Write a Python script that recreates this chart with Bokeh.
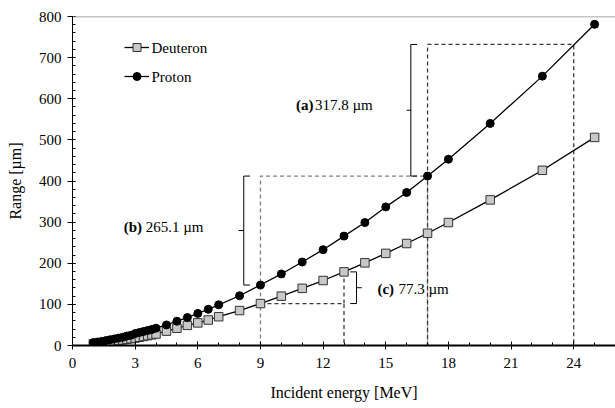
from bokeh.plotting import figure
from bokeh.models import Span, Range1d, SingleIntervalTicker, Legend, LegendItem, Label
from bokeh.embed import file_html
from bokeh.resources import INLINE

# ---------------- data ----------------
energy = [1.0, 1.2, 1.4, 1.6, 1.8, 2.0, 2.2, 2.4, 2.6, 2.8, 3.0, 3.2, 3.4, 3.6, 3.8, 4.0,
          4.5, 5.0, 5.5, 6.0, 6.5, 7.0, 8.0, 9.0, 10.0, 11.0, 12.0, 13.0, 14.0, 15.0,
          16.0, 17.0, 18.0, 20.0, 22.5, 25.0]
proton = [7, 8.5, 10, 12, 14, 16, 18, 20, 23, 25, 29, 31.5, 34, 36.5, 39, 42,
          50, 59, 68, 78, 88, 99, 121, 147, 174, 203, 233, 266, 299, 337,
          372, 412, 453, 540, 655, 781]
deuteron = [4, 5, 6, 7.5, 9, 10.5, 12, 13.5, 15, 16.5, 18, 20, 22, 24, 26, 28,
            35, 42, 49, 55, 62, 70, 85, 102, 120, 139, 158, 179, 201, 224,
            248, 273, 299, 354, 426, 506]

x_ticks = [0, 3, 6, 9, 12, 15, 18, 21, 24]
y_ticks = [0, 100, 200, 300, 400, 500, 600, 700, 800]
series_names = ["Deuteron", "Proton"]

# annotation values: (energy start, energy end, range low, range high, label)
ann_a = (17, 24, 412, 732, "317.8 \u00b5m")
ann_b = (9, 17, 147, 412, "265.1 \u00b5m")
ann_c = (9, 13, 102, 179, "77.3 \u00b5m")

FONT = "Liberation Serif"
FS = "15px"

p = figure(width=615, height=408, output_backend="svg", toolbar_location=None,
           x_range=Range1d(0, 26), y_range=Range1d(0, 800),
           min_border_left=72, min_border_right=0, min_border_top=16, min_border_bottom=63)
p.outline_line_color = None
p.grid.visible = False
p.background_fill_color = "white"

# top border
p.add_layout(Span(location=800, dimension="width", line_color="#8a8a8a", line_width=1.5))

# dashed guide lines
dark = "#3a3a3a"
light = "#808080"
a0, a1, ra0, ra1, _ = ann_a
b0, b1, rb0, rb1, _ = ann_b
c0, c1, rc0, rc1, _ = ann_c
p.multi_line(xs=[[b0, b0, b1, b1]], ys=[[0, rb1, rb1, 0]], line_color=light,
             line_width=1.3, line_dash="4 3")
p.multi_line(xs=[[a0, a0, a1, a1], [c0, c1, c1]], ys=[[0, ra1, ra1, 0], [rc0, rc0, 0]],
             line_color=dark, line_width=1.3, line_dash="4 3")
p.line([c1, c1], [rc0, rc1], line_color=dark, line_width=1.3, line_dash="4 3")

# brackets
def bracket_left(xb, y0, y1, out, tick):
    return ([[xb + out, xb, xb, xb + out], [xb, xb - tick]],
            [[y0, y0, y1, y1], [(y0 + y1) / 2, (y0 + y1) / 2]])

xs, ys = bracket_left(16.2, ra0, ra1, 0.3, 0.2)
p.multi_line(xs=xs, ys=ys, line_color="black", line_width=1)
xs, ys = bracket_left(8.2, rb0, rb1, 0.3, 0.25)
p.multi_line(xs=xs, ys=ys, line_color="black", line_width=1)
xs, ys = bracket_left(13.6, rc0, rc1, -0.3, -0.25)
p.multi_line(xs=xs, ys=ys, line_color="black", line_width=1)

# data series
ld = p.line(energy, deuteron, line_color="black", line_width=1.3)
sd = p.scatter(energy, deuteron, marker="square", size=8.5, fill_color="#c8c8c8",
               line_color="#333333", line_width=1)
lp = p.line(energy, proton, line_color="black", line_width=1.3)
sp = p.scatter(energy, proton, marker="circle", size=8, fill_color="black",
               line_color="black")

# annotation labels
def add_ann(x, y, tag, txt, gap):
    p.add_layout(Label(x=x, y=y, text=tag, text_font=FONT, text_font_size=FS,
                       text_font_style="bold", text_baseline="middle", text_color="black"))
    p.add_layout(Label(x=x, y=y, x_offset=gap, text=txt, text_font=FONT,
                       text_font_size=FS, text_baseline="middle", text_color="black"))

add_ann(10.7, 585, "(a)", ann_a[4], 19)
add_ann(2.45, 287, "(b)", ann_b[4], 22)
add_ann(14.6, 138, "(c)", ann_c[4], 21)

# legend: symbols from Bokeh's legend, text as serif labels
legend = Legend(items=[LegendItem(label="", renderers=[ld, sd]),
                       LegendItem(label="", renderers=[lp, sp])],
                location=(52, 259), orientation="vertical", padding=0, margin=0,
                spacing=9, glyph_width=25, glyph_height=20, label_standoff=0,
                label_width=0, border_line_color=None, background_fill_alpha=0)
p.add_layout(legend)
for name, ly in zip(series_names, (723, 653)):
    p.add_layout(Label(x=0, y=ly, x_offset=79, text=name, text_font=FONT,
                       text_font_size=FS, text_baseline="middle", text_color="black"))

# axes
p.xaxis.axis_label = "Incident energy [MeV]"
p.yaxis.axis_label = "Range [\u00b5m]"
p.axis.axis_label_text_font = FONT
p.axis.axis_label_text_font_size = "16px"
p.axis.axis_label_text_font_style = "normal"
p.axis.axis_label_text_color = "black"
p.axis.major_tick_line_color = "black"
p.axis.minor_tick_line_color = "black"
p.axis.axis_line_color = "black"
p.axis.major_label_text_color = "black"
p.axis.major_label_text_font = FONT
p.axis.major_label_text_font_size = FS

p.xaxis.ticker = SingleIntervalTicker(interval=3, num_minor_ticks=3)
p.xaxis.major_label_overrides = {t: str(t) for t in x_ticks}
p.xaxis.axis_line_width = 2.2
p.xaxis.major_tick_in = 4
p.xaxis.major_tick_out = 4
p.xaxis.minor_tick_in = 3
p.xaxis.minor_tick_out = 0
p.xaxis.major_label_standoff = 8
p.xaxis.axis_label_standoff = 13

p.yaxis.ticker = SingleIntervalTicker(interval=100, num_minor_ticks=5)
p.yaxis.major_label_overrides = {t: str(t) for t in y_ticks}
p.yaxis.axis_line_width = 1
p.yaxis.major_tick_in = 3
p.yaxis.major_tick_out = 5
p.yaxis.minor_tick_in = 3
p.yaxis.minor_tick_out = 0
p.yaxis.major_label_standoff = 6
p.yaxis.axis_label_standoff = 12

open("out.html", "w").write(file_html(p, INLINE))
